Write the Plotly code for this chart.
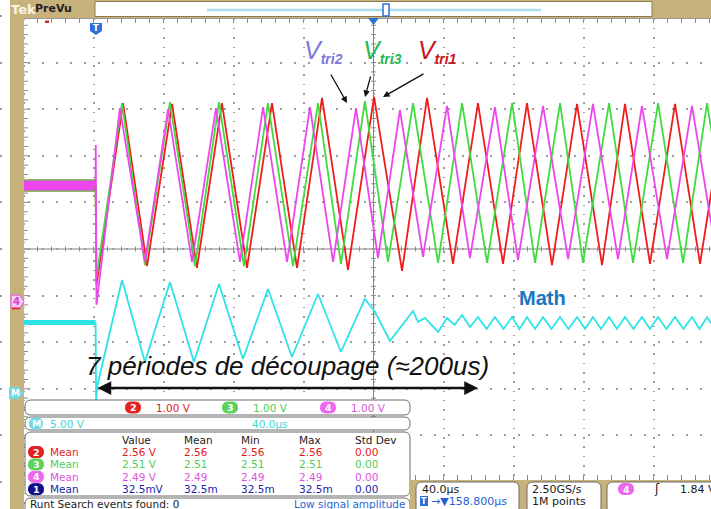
import numpy as np
import plotly.graph_objects as go

W, H = 711, 509

# ---- scope settings ----
US_PER_DIV = 40.0          # horizontal scale
DELAY_US = 158.8           # T -> expansion point (screen centre)
CH_V_PER_DIV = 1.0
MATH_V_PER_DIV = 5.0

# ---- waveforms: vertices (time in us, volts) ----
# ch2 = Vtri1 (red)
ch2_t = [-42, 0, 0.5, 15.7, 29.4, 43.7, 57.9, 72.2, 86.5, 100.8, 115.1, 129.4, 144.2, 159.1,
         175.1, 189.4, 204.2, 218.5, 232.8, 246.5, 260.8, 275.1, 289.4, 302.5, 316.8, 331.1,
         345.4, 359.7]
ch2_v = [2.50, 2.50, 0.36, 4.27, 0.77, 4.25, 0.73, 4.27, 0.73, 4.27, 0.73, 4.38, 0.69, 4.40,
         0.67, 4.38, 0.82, 4.27, 0.82, 4.27, 0.79, 4.25, 0.79, 4.25, 0.82, 4.25, 0.82, 4.25]

# ch3 = Vtri3 (green)
ch3_t = [-42, 0, 0.5, 15.1, 28.2, 42.5, 56.8, 70.5, 84.8, 98.5, 112.8, 127.1, 140.2, 153.9,
         167.1, 181.4, 195.7, 209.4, 223.7, 238.0, 251.1, 265.4, 278.5, 293.4, 307.1, 321.4,
         335.7, 349.4, 363.7]
ch3_v = [2.50, 2.50, 0.52, 4.27, 0.79, 4.29, 0.77, 4.29, 0.77, 4.27, 0.77, 4.27, 0.82, 4.31,
         0.86, 4.27, 0.84, 4.27, 0.84, 4.27, 0.84, 4.27, 0.84, 4.27, 0.84, 4.27, 0.84, 4.27,
         0.84]

# ch4 = Vtri2 (magenta), trigger source
ch4_t = [-42, 0, 0.1, 0.5, 13.9, 28.2, 41.4, 55.1, 68.8, 82.5, 95.7, 109.4, 122.5, 135.7,
         148.8, 161.4, 173.9, 187.1, 200.8, 213.9, 228.2, 241.4, 255.7, 270.0, 284.2, 298.5,
         312.2, 326.5, 340.8, 355.1]
ch4_v = [2.50, 2.50, 3.37, -0.06, 4.16, 0.86, 4.14, 0.86, 4.16, 0.86, 4.18, 0.86, 4.18, 0.86,
         4.16, 0.94, 4.12, 0.97, 4.21, 0.94, 4.18, 0.90, 4.21, 0.92, 4.25, 0.92, 4.21, 0.92,
         4.21, 0.92]

# Math (cyan), 5 V/div
math_t = [-42, 0, 0.3, 1.1, 15.1, 28.2, 42.5, 56.2, 70.5, 84.2, 98.5, 112.2, 127.1, 140.2,
          153.9, 159.7, 168.2, 181.4, 184.2, 188.2, 195.7, 200.8, 205.1, 209.4, 213.9,
          218.5, 223.4, 228.2, 233.1, 238.0, 242.2, 246.5, 251.1, 255.7, 260.5, 265.4, 270.2,
          275.1, 279.7, 284.2, 288.8, 293.4, 297.9, 302.5, 307.4, 312.2, 316.8, 321.4, 326.2,
          331.1, 335.9, 340.8, 345.1, 349.4, 353.9, 358.5]
math_v = [7.56, 7.56, -0.75, 0.86, 12.12, 3.33, 11.91, 3.33, 11.70, 3.65, 11.16, 3.86, 10.62,
          4.40, 10.09, 8.69, 5.58, 8.80, 7.62, 8.05, 6.55, 8.05, 7.30, 8.37, 7.08,
          8.15, 6.87, 8.15, 6.87, 8.15, 6.87, 8.15, 6.87, 8.15, 6.87, 8.15, 6.87, 8.15, 6.87,
          8.15, 6.87, 8.15, 6.87, 8.15, 6.87, 8.15, 6.87, 8.15, 6.87, 8.15, 6.87, 8.15, 6.87,
          8.15, 6.87, 8.15]

# ---- readouts ----
scale_ch = ["2", "3", "4"]
scale_txt = ["1.00 V", "1.00 V", "1.00 V"]
math_scale = "5.00 V"
math_time = "40.0\u00b5s"
meas_header = ["Value", "Mean", "Min", "Max", "Std Dev"]
meas_ch = ["2", "3", "4", "1"]
meas_value = ["2.56 V", "2.51 V", "2.49 V", "32.5mV"]
meas_mean = ["2.56", "2.51", "2.49", "32.5m"]
meas_min = ["2.56", "2.51", "2.49", "32.5m"]
meas_max = ["2.56", "2.51", "2.49", "32.5m"]
meas_std = ["0.00", "0.00", "0.00", "0.00"]

RED, GREEN, MAG, CYAN, BLUE1 = "#f01c1c", "#3fdc3f", "#ee45ee", "#2ee3e8", "#12128c"
TXT = {"2": "#e41b1b", "3": "#4fcf4f", "4": "#dd55dd", "1": "#2323a8"}
PILL = {"2": "#e42020", "3": "#5cd25c", "4": "#ee66ee", "1": "#10108a"}
TAN = "#c8b27c"
FONT = "DejaVu Sans"

# screen geometry (pixels)
CX, CY = 373.5, 249.0          # graticule centre
DX, DY = 70.0, 46.6            # pixels per division
GND_CH, GND_M = 302.0, 393.0   # ground markers ch4 / math


def fx(p):
    return p / W


def fy(p):
    return 1 - p / H


def t_at(px):
    return DELAY_US + (px - CX) / DX * US_PER_DIV


fig = go.Figure()

# pre-trigger noise bands (drawn thick) + traces
for t, v, col, w in [(ch2_t, ch2_v, RED, 12), (ch3_t, ch3_v, GREEN, 12), (ch4_t, ch4_v, MAG, 10)]:
    fig.add_trace(go.Scatter(x=t[:2], y=v[:2], mode="lines", line=dict(color=col, width=w),
                             hoverinfo="skip"))
for t, v, col in [(ch2_t, ch2_v, RED), (ch3_t, ch3_v, GREEN), (ch4_t, ch4_v, MAG)]:
    fig.add_trace(go.Scatter(x=t[1:], y=v[1:], mode="lines", line=dict(color=col, width=1.8),
                             hoverinfo="skip"))
fig.add_trace(go.Scatter(x=math_t[:2], y=math_v[:2], yaxis="y2", mode="lines",
                         line=dict(color=CYAN, width=5), hoverinfo="skip"))
fig.add_trace(go.Scatter(x=math_t[1:], y=math_v[1:], yaxis="y2", mode="lines",
                         line=dict(color=CYAN, width=1.8), hoverinfo="skip"))

shapes = []
ann = []


def rrect(x0, y0, x1, y1, r=5, fill="white", line="#6a6a6a", lw=1, layer="above"):
    rx, ry = r / W, r / H
    X0, X1, Y0, Y1 = fx(x0), fx(x1), fy(y0), fy(y1)
    p = (f"M{X0+rx},{Y0} L{X1-rx},{Y0} Q{X1},{Y0} {X1},{Y0-ry} L{X1},{Y1+ry} "
         f"Q{X1},{Y1} {X1-rx},{Y1} L{X0+rx},{Y1} Q{X0},{Y1} {X0},{Y1+ry} "
         f"L{X0},{Y0-ry} Q{X0},{Y0} {X0+rx},{Y0} Z")
    shapes.append(dict(type="path", xref="paper", yref="paper", path=p, fillcolor=fill,
                       line=dict(color=line, width=lw), layer=layer))


def rect(x0, y0, x1, y1, fill, line=None, lw=0, layer="above"):
    shapes.append(dict(type="rect", xref="paper", yref="paper", x0=fx(x0), x1=fx(x1),
                       y0=fy(y1), y1=fy(y0), fillcolor=fill,
                       line=dict(color=line or fill, width=lw), layer=layer))


def poly(pts, fill, line=None, lw=0):
    p = "M" + " L".join(f"{fx(a)},{fy(b)}" for a, b in pts) + " Z"
    shapes.append(dict(type="path", xref="paper", yref="paper", path=p, fillcolor=fill,
                       line=dict(color=line or fill, width=lw), layer="above"))


def seg(x0, y0, x1, y1, col, lw=1, layer="above"):
    shapes.append(dict(type="line", xref="paper", yref="paper", x0=fx(x0), y0=fy(y0),
                       x1=fx(x1), y1=fy(y1), line=dict(color=col, width=lw), layer=layer))


def txt(x, y, s, col="#1a1a1a", size=10.5, anchor="left", family=FONT, bold=False):
    if bold:
        s = f"<b>{s}</b>"
    ann.append(dict(x=fx(x), y=fy(y), xref="paper", yref="paper", text=s, showarrow=False,
                    xanchor=anchor, yanchor="middle",
                    font=dict(color=col, size=size, family=family)))


def arrow(hx, hy, tx, ty, lw, both=False, size=1.0):
    ann.append(dict(x=fx(hx), y=fy(hy), ax=tx - hx, ay=ty - hy, xref="paper", yref="paper",
                    axref="pixel", ayref="pixel", text="", showarrow=True, arrowhead=2,
                    arrowside="end+start" if both else "end", arrowsize=size,
                    arrowwidth=lw, arrowcolor="#111111"))


def pill(xc, yc, s, fill, w=15, h=11):
    rrect(xc - w / 2, yc - h / 2, xc + w / 2, yc + h / 2, r=h / 2, fill=fill, line=fill)
    txt(xc, yc, s, "white", 9.5, "center", bold=True)


def ticks_path(pts):
    return " ".join(f"M{fx(a)},{fy(b)} L{fx(c)},{fy(d)}" for a, b, c, d in pts)


# graticule centre lines with ticks
seg(CX, 18, CX, 482, "#808080", 1, "below")
seg(23, CY, W, CY, "#808080", 1, "below")
tk = [(x, CY - 2.5, x, CY + 2.5) for x in np.arange(CX - 25 * DX / 5, W, DX / 5)]
tk += [(CX - 2.5, y, CX + 2.5, y) for y in np.arange(CY - 25 * DY / 5, 483, DY / 5)]
# rulers on the graticule border
tk += [(x, 19, x, 23) for x in np.arange(CX - 25 * DX / 5, W, DX / 5)]
tk += [(24, y, 28, y) for y in np.arange(CY - 25 * DY / 5, 483, DY / 5)]
tk += [(x, 475, x, 480) for x in np.arange(CX + 1 * DX / 5, W, DX / 5)]
shapes.append(dict(type="path", xref="paper", yref="paper", path=ticks_path(tk),
                   line=dict(color="#8a8a8a", width=1), layer="below"))
seg(23, 18.5, W, 18.5, "#9a9a9a", 1, "below")

# frame: left strip and top bar
rect(10, 0, 24, H, TAN)
rect(10, 0, W, 18, TAN)
rect(95, 1.5, 652, 16.5, "white", "#8c7b52", 1)
seg(207, 10, 541, 10, "#a9dcef", 2.5)
rect(383, 4, 389, 16, "white", "#2f6fd8", 1.5)
txt(9, 9, "Tek", "#fbf6e6", 13, bold=True)
txt(33, 8.5, "PreVu", "#222222", 11, bold=True)
rect(45, 20.5, 49, 23, "#e02020")

# markers
poly([(90, 23), (102, 23), (102, 31), (96, 35), (90, 31)], "#2f6fd8")
txt(96, 28.5, "T", "white", 8.5, "center", bold=True)
poly([(368, 18), (379, 18), (373.5, 25)], "#2f6fd8")
poly([(11, 295), (20, 295), (24, 301.5), (20, 308), (11, 308)], "#f7c8f2", "#e050e0", 1)
seg(12, 308.5, 20, 308.5, "#e02020", 1.5)
txt(16, 301.5, "4", "#d43fd4", 10, "center", bold=True)
poly([(9, 387), (19, 387), (23, 393), (19, 399), (9, 399)], "#6edbe4")
txt(15, 393, "M", "white", 9, "center", bold=True)

# trace labels
LAB = "Liberation Sans"
for x, name, col in [(302, "tri2", "#7a7ad8"), (361, "tri3", "#1fba5a"), (416, "tri1", "#c8141e")]:
    ann.append(dict(x=fx(x), y=fy(51), xref="paper", yref="paper", showarrow=False,
                    xanchor="left", yanchor="middle",
                    text=f"<i>V</i><sub><i><b><span style='font-size:14px'>{name}</span></b></i></sub>",
                    font=dict(color=col, size=25, family=LAB)))
arrow(347, 103, 330, 73, 1.3)
arrow(365, 97, 371, 75, 1.3)
arrow(383, 97, 425, 73, 1.3)

txt(517, 298, "Math", "#1b76c2", 20, family=LAB, bold=True)
txt(84, 366, "<i>7 périodes de découpage (≈200us)</i>", "#111111", 26, family=LAB)
arrow(478, 388, 96, 388, 2.5, both=True, size=1.1)

# readout boxes (bottom left)
rrect(25, 400, 410, 415, 6)
for xc, ch, s in zip([133, 230, 328], scale_ch, scale_txt):
    pill(xc, 407.5, ch, PILL[ch])
    txt(xc + 21, 407.5, s, TXT[ch])
rrect(25, 417, 410, 430, 6)
pill(36, 423.5, "M", "#6edbe4", w=13)
txt(48, 423.5, math_scale, "#45d5df")
txt(250, 423.5, math_time, "#45d5df")

rrect(25, 432, 410, 496, 6)
for x, h in zip([120, 182, 239, 297, 353], meas_header):
    txt(x, 439.5, h, "#222222")
for i, ch in enumerate(meas_ch):
    y = 452 + i * 12.4
    pill(36, y, ch, PILL[ch], w=15, h=11)
    txt(48, y, "Mean", TXT[ch])
    for x, col in zip([120, 182, 239, 297, 353],
                      [meas_value, meas_mean, meas_min, meas_max, meas_std]):
        txt(x, y, col[i], TXT[ch])
rrect(25, 498, 410, 515, 6)
txt(28, 504, "Runt Search events found: 0", "#222222")
txt(407, 504, "Low signal amplitude", "#2a68cf", anchor="right")

# bottom right status area
rect(410, 480, W, H, TAN)
rrect(416, 482, 519, 514, 6)
txt(420, 489, "40.0\u00b5s", "#1a1a1a", 11)
rect(420, 496, 428, 506, "#2f6fd8")
txt(424, 501, "T", "white", 8, "center", bold=True)
txt(429, 501, "\u2192\u25bc158.800\u00b5s", "#1f5fd0", 11)
rrect(527, 482, 601, 514, 6)
txt(530, 489, "2.50GS/s", "#1a1a1a", 11)
txt(530, 501, "1M points", "#1a1a1a", 11)
rrect(607, 482, 725, 514, 6)
pill(626, 489, "4", PILL["4"])
txt(657, 489, "\u0283", "#1a1a1a", 12, "center")
txt(678, 489, "1.84 V", "#1a1a1a", 11)

fig.update_layout(
    width=W, height=H, margin=dict(l=0, r=0, t=0, b=0),
    paper_bgcolor="white", plot_bgcolor="white", showlegend=False,
    xaxis=dict(range=[t_at(0), t_at(W)], showticklabels=False, ticks="", zeroline=False,
               showline=False, showgrid=True, tick0=DELAY_US, dtick=US_PER_DIV,
               gridcolor="#9c9c9c", gridwidth=1.5, griddash="1.5px,7.8px", fixedrange=True),
    yaxis=dict(range=[(GND_CH - H) / DY * CH_V_PER_DIV, GND_CH / DY * CH_V_PER_DIV],
               showticklabels=False, ticks="", zeroline=False, showline=False,
               showgrid=True, tick0=(GND_CH - CY) / DY, dtick=CH_V_PER_DIV,
               gridcolor="#9c9c9c", gridwidth=1.5, griddash="1.5px,12.5px", fixedrange=True),
    yaxis2=dict(range=[(GND_M - H) / DY * MATH_V_PER_DIV, GND_M / DY * MATH_V_PER_DIV],
                overlaying="y", visible=False, fixedrange=True),
    shapes=shapes, annotations=ann,
)

fig.write_html("out.html", config={"displayModeBar": False},
               post_script="document.body.style.margin='0';document.body.style.overflow='hidden';")
